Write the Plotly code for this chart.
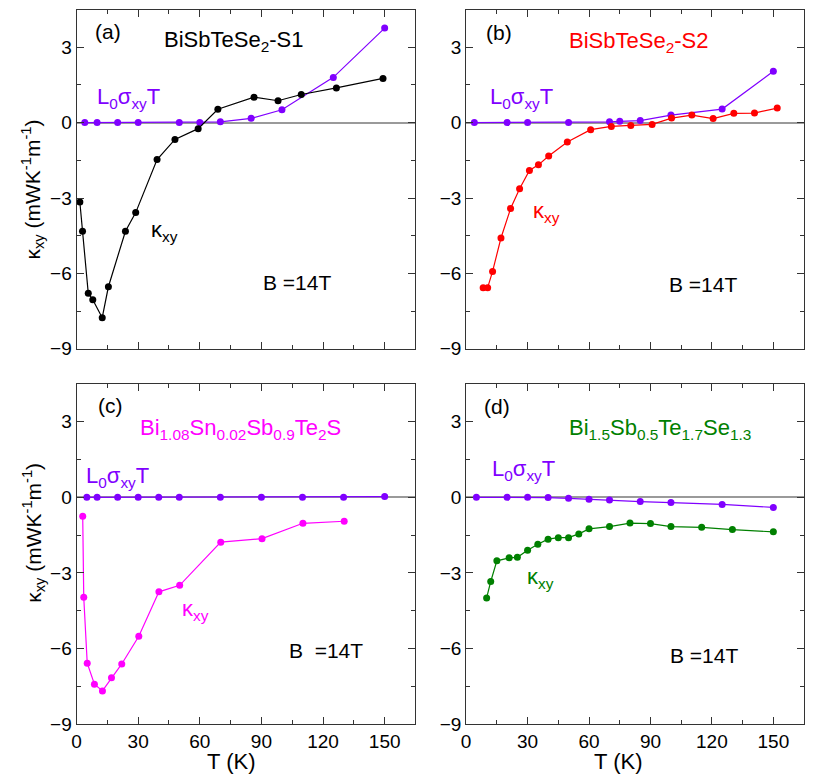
import plotly.graph_objects as go
from plotly.subplots import make_subplots

# (a) BiSbTeSe2-S1
t_a_k = [1.6, 2.9, 5.7, 7.9, 12.5, 15.5, 23.8, 28.8, 39.2, 47.9, 59.2, 68.8, 86.4, 98.1, 109.4, 126.5, 149.2]
k_a = [-3.16, -4.32, -6.79, -7.05, -7.76, -6.53, -4.32, -3.58, -1.47, -0.67, -0.24, 0.53, 1.01, 0.87, 1.12, 1.38, 1.76]
t_a_l = [4, 10, 20, 30, 50, 60, 70, 85, 100, 125, 150]
l_a = [0, 0, 0, 0, 0, 0, 0.03, 0.17, 0.51, 1.80, 3.76]

# (b) BiSbTeSe2-S2
t_b_k = [8.3, 10.5, 12.9, 17.0, 21.7, 26.1, 30.9, 35.3, 40.3, 49.4, 60.8, 70.9, 80.4, 90.8, 100.3, 110.2, 120.6, 130.7, 140.8, 151.9]
k_b = [-6.57, -6.57, -5.92, -4.59, -3.42, -2.63, -1.90, -1.68, -1.33, -0.77, -0.28, -0.15, -0.11, -0.07, 0.18, 0.30, 0.16, 0.37, 0.38, 0.58]
t_b_l = [4, 20, 30, 50, 70, 75, 85, 100, 125, 150]
l_b = [0, 0, 0, 0, 0.03, 0.05, 0.08, 0.30, 0.54, 2.04]

# (c) Bi1.08Sn0.02Sb0.9Te2S
t_c_k = [3.0, 3.5, 5.2, 8.7, 12.6, 17.0, 22.0, 30.3, 40.1, 50.2, 70.2, 90.3, 110.2, 130.3]
k_c = [-0.75, -3.96, -6.58, -7.41, -7.68, -7.16, -6.61, -5.51, -3.75, -3.49, -1.78, -1.64, -1.03, -0.95]
t_c_l = [5, 10, 20, 30, 40, 50, 70, 90, 110, 130, 150]
l_c = [0, 0, 0, 0, 0, 0, 0, 0, 0, 0, 0.03]

# (d) Bi1.5Sb0.5Te1.7Se1.3
t_d_k = [10, 12, 15, 21, 25, 30, 35, 40, 45, 50, 55, 60, 70, 80, 90, 100, 115, 130, 150]
k_d = [-3.99, -3.34, -2.52, -2.40, -2.38, -2.10, -1.86, -1.66, -1.60, -1.60, -1.45, -1.25, -1.16, -1.02, -1.04, -1.16, -1.19, -1.28, -1.37]
t_d_l = [5, 20, 30, 40, 50, 60, 70, 85, 100, 125, 150]
l_d = [0, 0, 0, -0.01, -0.04, -0.08, -0.11, -0.17, -0.21, -0.28, -0.40]

PURPLE = '#8000ff'
W, H = 814, 784
FONT = 'Liberation Sans, Arial'
YSC = 0.985  # la foto esce un po' schiacciata in verticale


def px2x(px):
    return px / W


def py2y(py):
    return 1 - ((py - 0.5) / YSC) / H


panels = [
    (1, 1, t_a_k, k_a, t_a_l, l_a, 'black'),
    (1, 2, t_b_k, k_b, t_b_l, l_b, '#ff0000'),
    (2, 1, t_c_k, k_c, t_c_l, l_c, '#ff00ff'),
    (2, 2, t_d_k, k_d, t_d_l, l_d, '#008000'),
]

fig = make_subplots(rows=2, cols=2)

for r, c, tk, kv, tl, lv, col in panels:
    fig.add_trace(go.Scatter(x=tl, y=lv, mode='lines+markers',
                             line=dict(color=PURPLE, width=1.2),
                             marker=dict(color=PURPLE, size=7)), row=r, col=c)
    fig.add_trace(go.Scatter(x=tk, y=kv, mode='lines+markers',
                             line=dict(color=col, width=1.2),
                             marker=dict(color=col, size=7)), row=r, col=c)

xdom = {1: [px2x(72), px2x(413)], 2: [px2x(464), px2x(804)]}
ydom = {1: [py2y(349), py2y(10)], 2: [py2y(724), py2y(384)]}

tickfont = dict(family=FONT, size=19, color='black')
for r in (1, 2):
    for c in (1, 2):
        fig.update_xaxes(domain=xdom[c], range=[0, 165], tickvals=[0, 30, 60, 90, 120, 150],
                         showticklabels=(r == 2), ticks='inside', ticklen=7, tickcolor='#333',
                         minor=dict(dtick=15, tick0=0, ticks='inside', ticklen=4, tickcolor='#333'),
                         showline=True, linecolor='#333', linewidth=1, mirror='ticks',
                         showgrid=False, zeroline=False, tickfont=tickfont, row=r, col=c)
        fig.update_yaxes(domain=ydom[r], range=[-9, 4.5], tickvals=[-9, -6, -3, 0, 3],
                         ticks='inside', ticklen=7, tickcolor='#333',
                         minor=dict(dtick=1.5, tick0=0, ticks='inside', ticklen=4, tickcolor='#333'),
                         showline=True, linecolor='#333', linewidth=1, mirror='ticks',
                         showgrid=False, zeroline=True, zerolinecolor='#9a9a9a', zerolinewidth=1.5,
                         tickfont=tickfont, row=r, col=c)


def ann(px, py, text, color='black', size=22, angle=0):
    fig.add_annotation(x=px2x(px), y=py2y(py), xref='paper', yref='paper', text=text,
                       showarrow=False, textangle=angle, xanchor='center', yanchor='middle',
                       font=dict(family=FONT, size=size, color=color))


L0 = 'L<sub>0</sub>σ<sub>xy</sub>T'
KXY = 'κ<sub>xy</sub>'

ann(104, 32, '(a)', size=21)
ann(230, 41, 'BiSbTeSe<sub>2</sub>-S1')
ann(124, 98, L0, PURPLE)
ann(160, 231, KXY)
ann(294, 283, 'B =14T', size=21)

ann(497, 33, '(b)', size=21)
ann(637, 42, 'BiSbTeSe<sub>2</sub>-S2', '#ff0000')
ann(520, 98, L0, PURPLE)
ann(545, 212, KXY, '#ff0000')
ann(702, 285, 'B =14T', size=21)

ann(106, 406, '(c)', size=21)
ann(237, 429, 'Bi<sub>1.08</sub>Sn<sub>0.02</sub>Sb<sub>0.9</sub>Te<sub>2</sub>S', '#ff00ff')
ann(113, 477, L0, PURPLE)
ann(192, 610, KXY, '#ff00ff')
ann(323, 650, 'B  =14T', size=21)

ann(495, 407, '(d)', size=21)
ann(659, 429, 'Bi<sub>1.5</sub>Sb<sub>0.5</sub>Te<sub>1.7</sub>Se<sub>1.3</sub>', '#008000')
ann(522, 470, L0, PURPLE)
ann(539, 578, KXY, '#008000')
ann(703, 655, 'B =14T', size=21)

ytitle = 'κ<sub>xy</sub> (mWK<sup>-1</sup>m<sup>-1</sup>)'
ann(28, 190, ytitle, size=21, angle=-90)
ann(28, 533, ytitle, size=21, angle=-90)
ann(227, 761, 'T (K)')
ann(617, 761, 'T (K)')

fig.update_layout(width=W, height=H, margin=dict(l=0, r=0, t=0, b=0),
                  plot_bgcolor='white', paper_bgcolor='white', showlegend=False)

# niente margine di default del body e niente modebar
js = ("document.body.style.margin='0px';"
      "var s=document.createElement('style');"
      "s.innerHTML='.modebar-container{display:none !important;}';"
      "document.head.appendChild(s);")
fig.write_html("out.html", post_script=js)
